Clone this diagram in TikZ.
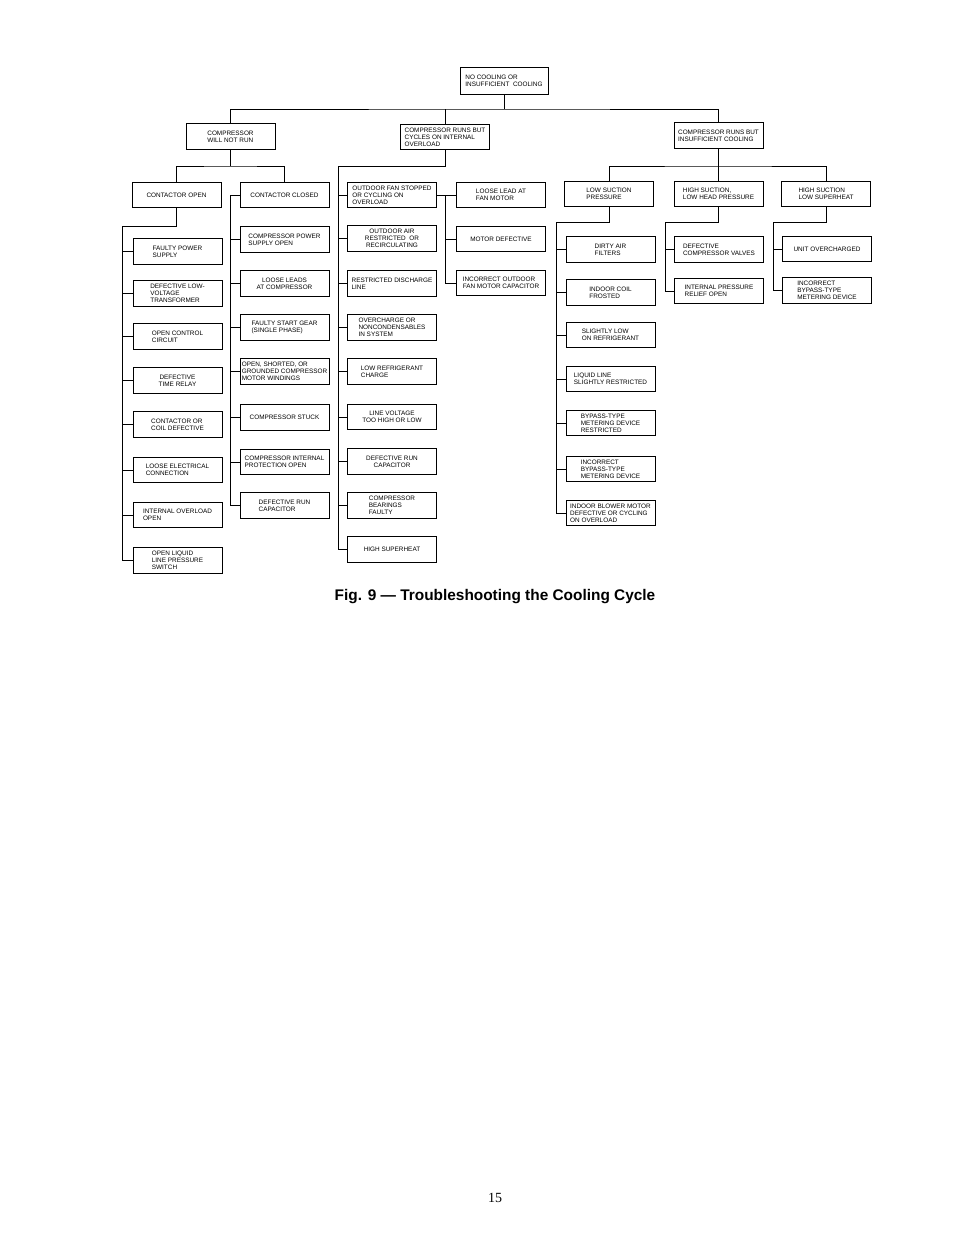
\documentclass[tikz,border=0pt]{standalone}
\usepackage{fontspec}
\setmainfont{Liberation Sans}
\newfontfamily\numfont{Liberation Serif}
\usepackage{tikz}

\begin{document}
\begin{tikzpicture}[x=1pt,y=-1pt,line width=1pt,
  fbox/.style={draw,minimum width=89pt,minimum height=25.5pt,inner sep=1pt,font=\fontsize{6.4}{7}\selectfont,align=left}]
\useasboundingbox (0,0) rectangle (954,1235);
\node[fbox,minimum width=88pt,minimum height=27pt] (nc) at (504,80.5) {NO COOLING OR\\INSUFFICIENT\ \ COOLING};
\node[fbox] (nr) at (230.5,136.5) {COMPRESSOR\\WILL NOT RUN};
\node[fbox] (cy) at (445,137) {COMPRESSOR RUNS BUT\\CYCLES ON INTERNAL\\OVERLOAD};
\node[fbox] (ic) at (718.5,135.5) {COMPRESSOR RUNS BUT\\INSUFFICIENT COOLING};
\coordinate (ncB) at (504,109);
\draw (nc) -- (ncB);
\draw (nr.north) |- (ncB) -| (ic.north);
\draw (cy.north) -- (cy.north |- ncB);

\node[fbox] (co) at (176.5,195) {CONTACTOR OPEN};
\node[fbox] (cc) at (284.5,195) {CONTACTOR CLOSED};
\coordinate (nrB) at (230.5,166);
\draw (nr) -- (nrB);
\draw (co.north) |- (nrB) -| (cc.north);

\foreach \y/\al/\txt [count=\i] in {251.5/left/{FAULTY POWER\\SUPPLY},293.5/left/{DEFECTIVE LOW-\\VOLTAGE\\TRANSFORMER},336.5/left/{OPEN CONTROL\\CIRCUIT},380.5/center/{DEFECTIVE\\TIME RELAY},424.5/left/{CONTACTOR OR\\COIL DEFECTIVE},470/left/{LOOSE ELECTRICAL\\CONNECTION},515/left/{INTERNAL OVERLOAD\\OPEN},560.5/left/{OPEN LIQUID\\LINE PRESSURE\\SWITCH}}
  \node[fbox,align/.expanded=\al] (co\i) at (177.5,\y) {\txt};
\coordinate (coL) at (122,226);
\draw (co.south) |- (coL) |- (co8.west);
\foreach \i in {1,...,7} \draw (coL |- co\i.west) -- (co\i.west);

\foreach \y/\al/\txt [count=\i] in {239.5/left/{COMPRESSOR POWER\\SUPPLY OPEN},283.5/center/{LOOSE LEADS\\AT COMPRESSOR},327.5/left/{FAULTY START GEAR\\(SINGLE PHASE)},371.5/left/{OPEN, SHORTED, OR\\GROUNDED COMPRESSOR\\MOTOR WINDINGS},417.5/center/{COMPRESSOR STUCK},462/left/{COMPRESSOR INTERNAL\\PROTECTION OPEN},505.5/left/{DEFECTIVE RUN\\CAPACITOR}}
  \node[fbox,align/.expanded=\al] (cc\i) at (284.5,\y) {\txt};
\coordinate (ccL) at (230.5,195);
\draw (cc.west) -- (ccL) |- (cc7.west);
\foreach \i in {1,...,6} \draw (ccL |- cc\i.west) -- (cc\i.west);

\foreach \y/\al/\txt [count=\i] in {195/left/{OUTDOOR FAN STOPPED\\OR CYCLING ON\\OVERLOAD},238.5/center/{OUTDOOR AIR\\RESTRICTED\ \ OR\\RECIRCULATING},283.5/left/{RESTRICTED DISCHARGE\\LINE},327.5/left/{OVERCHARGE OR\\NONCONDENSABLES\\IN SYSTEM},371.5/left/{LOW REFRIGERANT\\CHARGE},417/center/{LINE VOLTAGE\\TOO HIGH OR LOW},461.5/center/{DEFECTIVE RUN\\CAPACITOR},505.5/left/{COMPRESSOR\\BEARINGS\\FAULTY},549.5/center/{HIGH SUPERHEAT}}
  \node[fbox,align/.expanded=\al] (cy\i) at (392,\y) {\txt};
\coordinate (cyL) at (338.5,166);
\draw (cy.south) |- (cyL) |- (cy9.west);
\foreach \i in {1,...,8} \draw (cyL |- cy\i.west) -- (cy\i.west);

\foreach \y/\al/\txt [count=\i] in {195/left/{LOOSE LEAD AT\\FAN MOTOR},239/center/{MOTOR DEFECTIVE},283/left/{INCORRECT OUTDOOR\\FAN MOTOR CAPACITOR}}
  \node[fbox,align/.expanded=\al] (of\i) at (501,\y) {\txt};
\coordinate (ofL) at (445,195);
\draw (cy1.east) -- (of1.west);
\draw (ofL) |- (of3.west);
\draw (ofL |- of2.west) -- (of2.west);

\node[fbox] (ls) at (609,194) {LOW SUCTION\\PRESSURE};
\node[fbox] (hl) at (718.5,194) {HIGH SUCTION,\\LOW HEAD PRESSURE};
\node[fbox] (hs) at (826,194) {HIGH SUCTION\\LOW SUPERHEAT};
\coordinate (icB) at (718.5,166);
\draw (ic) -- (icB);
\draw (ls.north) |- (icB) -| (hs.north);
\draw (hl.north) -- (hl.north |- icB);

\foreach \y/\al/\txt [count=\i] in {249.5/left/{DIRTY AIR\\FILTERS},292.5/left/{INDOOR COIL\\FROSTED},335/left/{SLIGHTLY LOW\\ON REFRIGERANT},379/left/{LIQUID LINE\\SLIGHTLY RESTRICTED},423/left/{BYPASS-TYPE\\METERING DEVICE\\RESTRICTED},469/left/{INCORRECT\\BYPASS-TYPE\\METERING DEVICE},513/left/{INDOOR BLOWER MOTOR\\DEFECTIVE OR CYCLING\\ON OVERLOAD}}
  \node[fbox,align/.expanded=\al] (ls\i) at (610.5,\y) {\txt};
\coordinate (lsL) at (556,222);
\draw (ls.south) |- (lsL) |- (ls7.west);
\foreach \i in {1,...,6} \draw (lsL |- ls\i.west) -- (ls\i.west);

\foreach \y/\al/\txt [count=\i] in {249.5/left/{DEFECTIVE\\COMPRESSOR VALVES},291/left/{INTERNAL PRESSURE\\RELIEF OPEN}}
  \node[fbox,align/.expanded=\al] (hl\i) at (719,\y) {\txt};
\coordinate (hlL) at (665,222);
\draw (hl.south) |- (hlL) |- (hl2.west);
\draw (hlL |- hl1.west) -- (hl1.west);

\foreach \y/\al/\txt [count=\i] in {249/center/{UNIT OVERCHARGED},290.5/left/{INCORRECT\\BYPASS-TYPE\\METERING DEVICE}}
  \node[fbox,align/.expanded=\al] (hs\i) at (827,\y) {\txt};
\coordinate (hsL) at (773,222);
\draw (hs.south) |- (hsL) |- (hs2.west);
\draw (hsL |- hs1.west) -- (hs1.west);

\node[font=\fontsize{15.4}{17}\selectfont\bfseries] (cap) at (495,597) {Fig. 9 — Troubleshooting the Cooling Cycle};
\node[font=\numfont\fontsize{14}{16}\selectfont] (pg) at (495,1198) {15};
\end{tikzpicture}
\end{document}
